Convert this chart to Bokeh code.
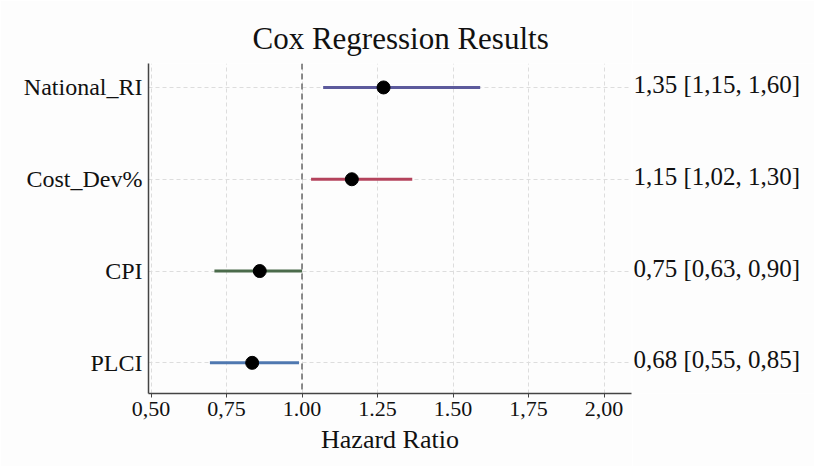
from bokeh.plotting import figure
from bokeh.layouts import row
from bokeh.models import ColumnDataSource, Span, FixedTicker, Range1d
from bokeh.core.properties import value
from bokeh.embed import file_html
from bokeh.resources import INLINE

# ---- data ----
variables = ["National_RI", "Cost_Dev%", "CPI", "PLCI"]
y_pos = [3, 2, 1, 0]
hr_point = [1.27, 1.165, 0.86, 0.835]
ci_low = [1.07, 1.03, 0.71, 0.695]
ci_high = [1.59, 1.365, 1.00, 0.99]
annotations = ["1,35 [1,15, 1,60]", "1,15 [1,02, 1,30]", "0,75 [0,63, 0,90]", "0,68 [0,55, 0,85]"]
colors = ["#5c5a9c", "#b4435c", "#4b6b4b", "#4f78b0"]
x_ticks = [0.5, 0.75, 1.0, 1.25, 1.5, 1.75, 2.0]
x_tick_labels = ["0,50", "0,75", "1.00", "1.25", "1.50", "1,75", "2,00"]

FONT = "Liberation Serif"
BG = "#fdfdfd"
TOP, BOTTOM, H = 63, 73, 466

src = ColumnDataSource(dict(
    y=y_pos, hr=hr_point, lo=ci_low, hi=ci_high, txt=annotations, color=colors,
    tx=[0] * len(y_pos),
))

yr = Range1d(-0.334, 3.261)

p = figure(width=632, height=H, output_backend="svg", toolbar_location=None,
           x_range=Range1d(0.4917, 2.091), y_range=yr,
           min_border_left=148, min_border_right=1, min_border_top=TOP, min_border_bottom=BOTTOM,
           title="Cox Regression Results")
p.background_fill_color = BG
p.border_fill_color = BG
p.outline_line_color = None

p.title.text_font = FONT
p.title.text_font_size = "31px"
p.title.text_font_style = "normal"
p.title.text_color = "#111111"
p.title.align = "left"
p.title.offset = 104
p.title.standoff = 16

# reference line at HR = 1
p.add_layout(Span(location=1.0, dimension="height", line_color="#666666",
                  line_dash="6 4", line_width=1.5))

p.segment(x0="lo", x1="hi", y0="y", y1="y", source=src, line_color="color", line_width=3)
p.scatter(x="hr", y="y", source=src, size=13, fill_color="black", line_color="black")

# axes
p.xaxis.ticker = FixedTicker(ticks=x_ticks)
p.xaxis.major_label_overrides = {t: l for t, l in zip(x_ticks, x_tick_labels)}
p.xaxis.axis_label = "Hazard Ratio"
p.xaxis.axis_label_text_font = FONT
p.xaxis.axis_label_text_font_size = "26px"
p.xaxis.axis_label_text_font_style = "normal"
p.xaxis.axis_label_standoff = 6
p.xaxis.major_label_text_font = FONT
p.xaxis.major_label_text_font_size = "22px"
p.xaxis.major_label_standoff = 4
p.xaxis.major_tick_out = 4
p.xaxis.major_tick_in = 0
p.xaxis.minor_tick_line_color = None
p.xaxis.axis_line_color = "#444444"
p.xaxis.axis_line_width = 1.5
p.xaxis.major_tick_line_color = "#444444"

p.yaxis.ticker = FixedTicker(ticks=y_pos)
p.yaxis.major_label_overrides = {y: v for y, v in zip(y_pos, variables)}
p.yaxis.major_label_text_font = FONT
p.yaxis.major_label_text_font_size = "24px"
p.yaxis.major_label_standoff = 6
p.yaxis.major_tick_out = 0
p.yaxis.major_tick_in = 0
p.yaxis.minor_tick_line_color = None
p.yaxis.axis_line_color = "#444444"
p.yaxis.axis_line_width = 1.5

for ax in (p.xaxis, p.yaxis):
    ax.major_label_text_color = "#111111"
    ax.axis_label_text_color = "#111111"

p.xgrid.grid_line_color = "#dddddd"
p.xgrid.grid_line_dash = "4 3"
p.ygrid.grid_line_color = "#dddddd"
p.ygrid.grid_line_dash = "4 3"

# side panel with the HR [CI] annotations, sharing the y scale
t = figure(width=182, height=H, output_backend="svg", toolbar_location=None,
           x_range=Range1d(-1, 181), y_range=yr,
           min_border_left=0, min_border_right=0, min_border_top=TOP, min_border_bottom=BOTTOM)
t.axis.visible = False
t.grid.visible = False
t.outline_line_color = None
t.background_fill_color = BG
t.border_fill_color = BG
t.text(x="tx", y="y", text="txt", source=src, text_font=value(FONT),
       text_font_size="25px", text_baseline="middle", text_align="left", text_color="#111111",
       y_offset=-3)

layout = row(p, t, spacing=0)
open("out.html", "w").write(file_html(layout, INLINE))
